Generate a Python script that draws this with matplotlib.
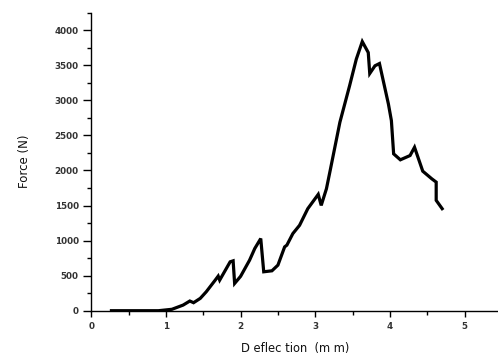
import matplotlib
matplotlib.use("Agg")
import matplotlib.pyplot as plt
from matplotlib.ticker import MultipleLocator

deflection = [0.27, 0.6, 0.9, 1.08, 1.23, 1.32, 1.37, 1.46, 1.54, 1.66, 1.70, 1.72, 1.86, 1.90,
              1.92, 2.00, 2.12, 2.19, 2.27, 2.31, 2.42, 2.50, 2.59, 2.62, 2.70, 2.79, 2.90,
              3.04, 3.08, 3.15, 3.20, 3.33, 3.46, 3.55, 3.63, 3.71, 3.73, 3.80, 3.86, 3.98,
              4.02, 4.05, 4.14, 4.27, 4.33, 4.44, 4.56, 4.62, 4.62, 4.70]
force = [0, 0, 0, 20, 80, 138, 114, 176, 270, 436, 493, 436, 697, 711,
         389, 490, 720, 887, 1029, 555, 569, 650, 910, 935, 1100, 1218, 1455,
         1659, 1502, 1740, 2000, 2687, 3208, 3588, 3838, 3682, 3383, 3493, 3525, 2948,
         2711, 2237, 2152, 2213, 2331, 1990, 1882, 1834, 1574, 1455]

xticks = [0, 1, 2, 3, 4, 5]
yticks = [0, 500, 1000, 1500, 2000, 2500, 3000, 3500, 4000]

fig = plt.figure(figsize=(4.98, 3.57), dpi=100)
ax = fig.add_axes([0.1833, 0.1297, 0.817, 0.8347])
ax.plot(deflection, force, color="black", lw=2.3, solid_joinstyle="miter")
ax.set_xlim(0, 5.45)
ax.set_ylim(0, 4250)
ax.set_xticks(xticks)
ax.set_yticks(yticks)
ax.xaxis.set_minor_locator(MultipleLocator(0.5))
ax.yaxis.set_minor_locator(MultipleLocator(250))
for s in ["top", "right"]:
    ax.spines[s].set_visible(False)
for s in ["left", "bottom"]:
    ax.spines[s].set_linewidth(1.0)
ax.tick_params(axis="y", which="major", direction="out", length=6, width=1, labelsize=6.3, labelcolor="#333333", pad=3)
ax.tick_params(axis="x", which="major", direction="out", length=4.5, width=1, labelsize=6.3, labelcolor="#333333", pad=3.5)
ax.tick_params(which="minor", direction="out", length=3, width=1)
for lbl in ax.get_xticklabels() + ax.get_yticklabels():
    lbl.set_fontweight("bold")
    lbl.set_fontfamily("DejaVu Sans")
ax.set_xlabel("D eflec tion  (m m)", fontsize=8.3, fontfamily="DejaVu Sans", color="#111111", labelpad=8)
ax.set_ylabel("Force (N)", fontsize=8.5, fontfamily="DejaVu Sans", color="#111111", labelpad=17)
fig.savefig("out.png", dpi=100)
